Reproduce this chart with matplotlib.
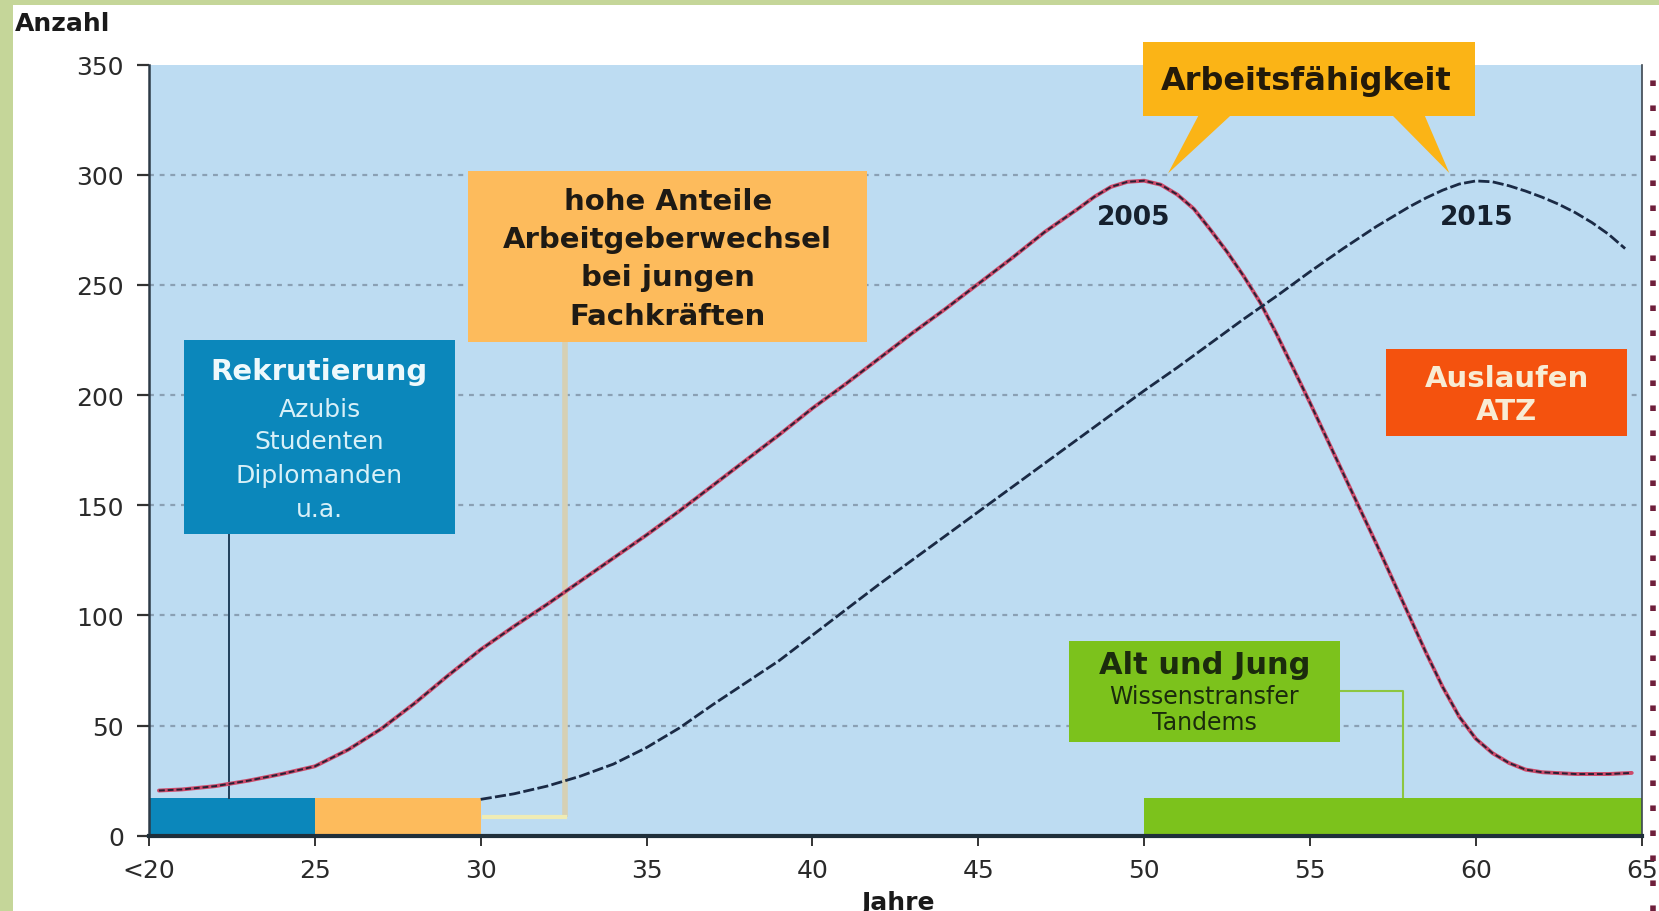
import matplotlib
matplotlib.use("Agg")
import matplotlib.pyplot as plt
from matplotlib.patches import Rectangle, Polygon
from matplotlib.lines import Line2D

plt.rcParams['font.family'] = ['DejaVu Sans']

# curve 2005 (Alter -> Anzahl)
age_2005 = [20.3, 21, 22, 23, 24, 25, 26, 27, 28, 29, 30, 31, 32, 33, 34, 35, 36, 37, 38, 39,
            40, 41, 42, 43, 44, 45, 46, 47, 48, 48.5, 49, 49.5, 50, 50.5, 51, 51.5, 52, 52.5,
            53, 53.5, 54, 54.5, 55, 55.5, 56, 56.5, 57, 57.5, 58, 58.5, 59, 59.5, 60, 60.5,
            61, 61.5, 62, 63, 64, 64.7]
count_2005 = [20.5, 21, 22.5, 25, 28, 31.5, 39, 48.5, 60, 72.5, 84.5, 95, 105, 115.5, 126, 136.5,
              147.5, 159, 170.5, 182, 194, 205, 216.5, 228, 239, 250.5, 262, 274, 284.5, 290,
              294.5, 296.8, 297.3, 295.5, 291, 284.5, 275, 265, 254, 242, 227.5, 212, 196.5,
              180.5, 164.5, 148.5, 132.5, 116, 99.5, 83, 67.5, 54, 44, 37.5, 33, 30, 28.8, 28,
              28, 28.5]

# curve 2015
age_2015 = [30, 31, 32, 33, 34, 35, 36, 37, 38, 39, 40, 41, 42, 43, 44, 45, 46, 47, 48, 49,
            50, 51, 52, 53, 54, 55, 56, 57, 58, 58.5, 59, 59.5, 60, 60.5, 61, 61.5, 62, 62.5,
            63, 63.5, 64, 64.5]
count_2015 = [16.5, 19, 22.5, 27, 32.5, 40, 49, 59.5, 69.5, 79.5, 91, 102.5, 114, 125, 136, 147,
              158, 169, 180, 191, 202, 212.5, 223.5, 234.5, 245, 256, 266.5, 276.5, 285.5, 289.5,
              293, 295.8, 297.2, 296.8, 295, 292.6, 289.8, 286.6, 282.8, 278.3, 273, 266.5]

# phase bars along the x axis
phase_start = [20, 25, 50]
phase_end = [25, 30, 65]
phase_height = [17, 17, 17]
phase_colors = ['#0b87bb', '#fdbb5c', '#7cc21c']

x_ticks = [20, 25, 30, 35, 40, 45, 50, 55, 60, 65]
x_labels = ['<20', '25', '30', '35', '40', '45', '50', '55', '60', '65']
y_ticks = [0, 50, 100, 150, 200, 250, 300, 350]
grid_levels = [50, 100, 150, 200, 250, 300]

W, H = 1659, 912
fig = plt.figure(figsize=(W / 100, H / 100), dpi=100)
fig.patch.set_facecolor('white')

# green frame of the screenshot (left + top)
fig.patches.append(Rectangle((0, 0), 13 / W, 1, transform=fig.transFigure,
                             facecolor='#c5d699', edgecolor='none', zorder=0))
fig.patches.append(Rectangle((0, 1 - 6 / H), 1, 6 / H, transform=fig.transFigure,
                             facecolor='#c5d699', edgecolor='none', zorder=0))

ax = fig.add_axes([149 / W, 75.3 / H, 1492.7 / W, 771.1 / H])
ax.set_facecolor('#bddcf2')
ax.set_xlim(20, 65)
ax.set_ylim(0, 350)

for lvl in grid_levels:
    ax.axhline(lvl, color='#8aa0b4', lw=1.6, ls=(0, (2.2, 2.6)), zorder=0.5)

# bars
ax.bar(phase_start, phase_height, width=[e - s for s, e in zip(phase_start, phase_end)],
       align='edge', color=phase_colors, zorder=2, linewidth=0)

# connector lines
ax.plot([22.4, 22.4], [137, 17], color='#1f3f5a', lw=1.4, zorder=2)
ax.plot([32.55, 32.55], [224, 8.5], color='#d6d0b4', lw=4, zorder=2, solid_capstyle='butt')
ax.plot([30.1, 32.55], [8.5, 8.5], color='#efecb5', lw=3, zorder=2)
ax.plot([55.9, 57.8, 57.8], [65.8, 65.8, 17.4], color='#8dc641', lw=1.5, zorder=2)

# curves
ax.plot(age_2005, count_2005, color='#cc4a6a', lw=2.8, zorder=3, solid_capstyle='round')
ax.plot(age_2005, count_2005, color='#2b2035', lw=1.4, ls=(0, (3, 1.5)), zorder=3.1)
ax.plot(age_2015, count_2015, color='#1a2a45', lw=2.0, ls=(0, (4, 1.2)), zorder=3)

ax.text(49.67, 280.7, '2005', ha='center', va='center', fontsize=19, fontweight='bold',
        color='#15202e', zorder=4)
ax.text(60.02, 280.7, '2015', ha='center', va='center', fontsize=19, fontweight='bold',
        color='#15202e', zorder=4)

# Rekrutierung box
ax.add_patch(Rectangle((21.05, 137), 8.18, 88.1, facecolor='#0b87bb', edgecolor='none', zorder=4))
ax.text(25.14, 211.1, 'Rekrutierung', ha='center', va='center', fontsize=21,
        fontweight='bold', color='#eef9fc', zorder=5)
for txt, yy in zip(['Azubis', 'Studenten', 'Diplomanden', 'u.a.'], [193.7, 179.3, 163.5, 148.3]):
    ax.text(25.14, yy, txt, ha='center', va='center', fontsize=18, color='#d8f0f8', zorder=5)

# hohe Anteile box
ax.add_patch(Rectangle((29.62, 224.2), 12.03, 77.7, facecolor='#fdbb5c', edgecolor='none', zorder=4))
for txt, yy in zip(['hohe Anteile', 'Arbeitgeberwechsel', 'bei jungen', 'Fachkräften'],
                   [288.3, 270.9, 253.7, 236.1]):
    ax.text(35.64, yy, txt, ha='center', va='center', fontsize=21, fontweight='bold',
            color='#1e1a14', zorder=5)

# Arbeitsfähigkeit callout
ax.add_patch(Rectangle((49.96, 326.8), 10.0, 33.3, facecolor='#fbb416', edgecolor='none',
                       zorder=4, clip_on=False))
ax.add_patch(Polygon([(51.66, 327.5), (52.65, 327.5), (50.72, 300.6)], closed=True,
                     facecolor='#fbb416', edgecolor='none', zorder=4, clip_on=False))
ax.add_patch(Polygon([(57.45, 327.5), (58.44, 327.5), (59.2, 300.8)], closed=True,
                     facecolor='#fbb416', edgecolor='none', zorder=4, clip_on=False))
ax.text(54.9, 343.0, 'Arbeitsfähigkeit', ha='center', va='center', fontsize=23,
        fontweight='bold', color='#231a0a', zorder=5, clip_on=False)

# Auslaufen ATZ box
ax.add_patch(Rectangle((57.29, 181.3), 7.28, 39.6, facecolor='#f4520e', edgecolor='none', zorder=4))
ax.text(60.93, 207.6, 'Auslaufen', ha='center', va='center', fontsize=21, fontweight='bold',
        color='#f8ecd4', zorder=5)
ax.text(60.93, 192.9, 'ATZ', ha='center', va='center', fontsize=21, fontweight='bold',
        color='#f8ecd4', zorder=5)

# Alt und Jung box
ax.add_patch(Rectangle((47.74, 42.4), 8.16, 46.1, facecolor='#7cc21c', edgecolor='none', zorder=4))
ax.text(51.82, 77.9, 'Alt und Jung', ha='center', va='center', fontsize=22, fontweight='bold',
        color='#1b2b0d', zorder=5)
ax.text(51.82, 63.6, 'Wissenstransfer', ha='center', va='center', fontsize=17,
        color='#1b2b0d', zorder=5)
ax.text(51.82, 51.5, 'Tandems', ha='center', va='center', fontsize=17,
        color='#1b2b0d', zorder=5)

# axes styling
ax.spines['top'].set_visible(False)
ax.spines['left'].set_color('#2d3a46')
ax.spines['left'].set_linewidth(1.8)
ax.spines['bottom'].set_color('#1f2f3a')
ax.spines['bottom'].set_linewidth(3)
ax.spines['bottom'].set_zorder(6)
ax.spines['right'].set_color('#3c4650')
ax.spines['right'].set_linewidth(1.2)

ax.set_xticks(x_ticks)
ax.set_xticklabels(x_labels)
ax.set_yticks(y_ticks)
ax.tick_params(axis='x', length=7, width=1.4, color='#333333', pad=9,
               labelsize=18, labelcolor='#2a2a2a')
ax.tick_params(axis='y', length=9, width=1.6, color='#333333', pad=9,
               labelsize=18, labelcolor='#2a2a2a')

# dotted end marker right of the plot
fig.lines.append(Line2D([1653 / W, 1653 / W], [0, 1 - 65 / H], transform=fig.transFigure,
                        color='#6e1f3b', lw=4, ls=(0, (1, 3.5)), dash_capstyle='butt'))

fig.text(15 / W, 1 - 24 / H, 'Anzahl', ha='left', va='center', fontsize=18,
         fontweight='bold', color='#1a1a1a')
fig.text(898 / W, 1 - 891 / H, 'Jahre', ha='center', va='top', fontsize=18,
         fontweight='bold', color='#1a1a1a')

fig.savefig('out.png', dpi=100, facecolor=fig.get_facecolor())
